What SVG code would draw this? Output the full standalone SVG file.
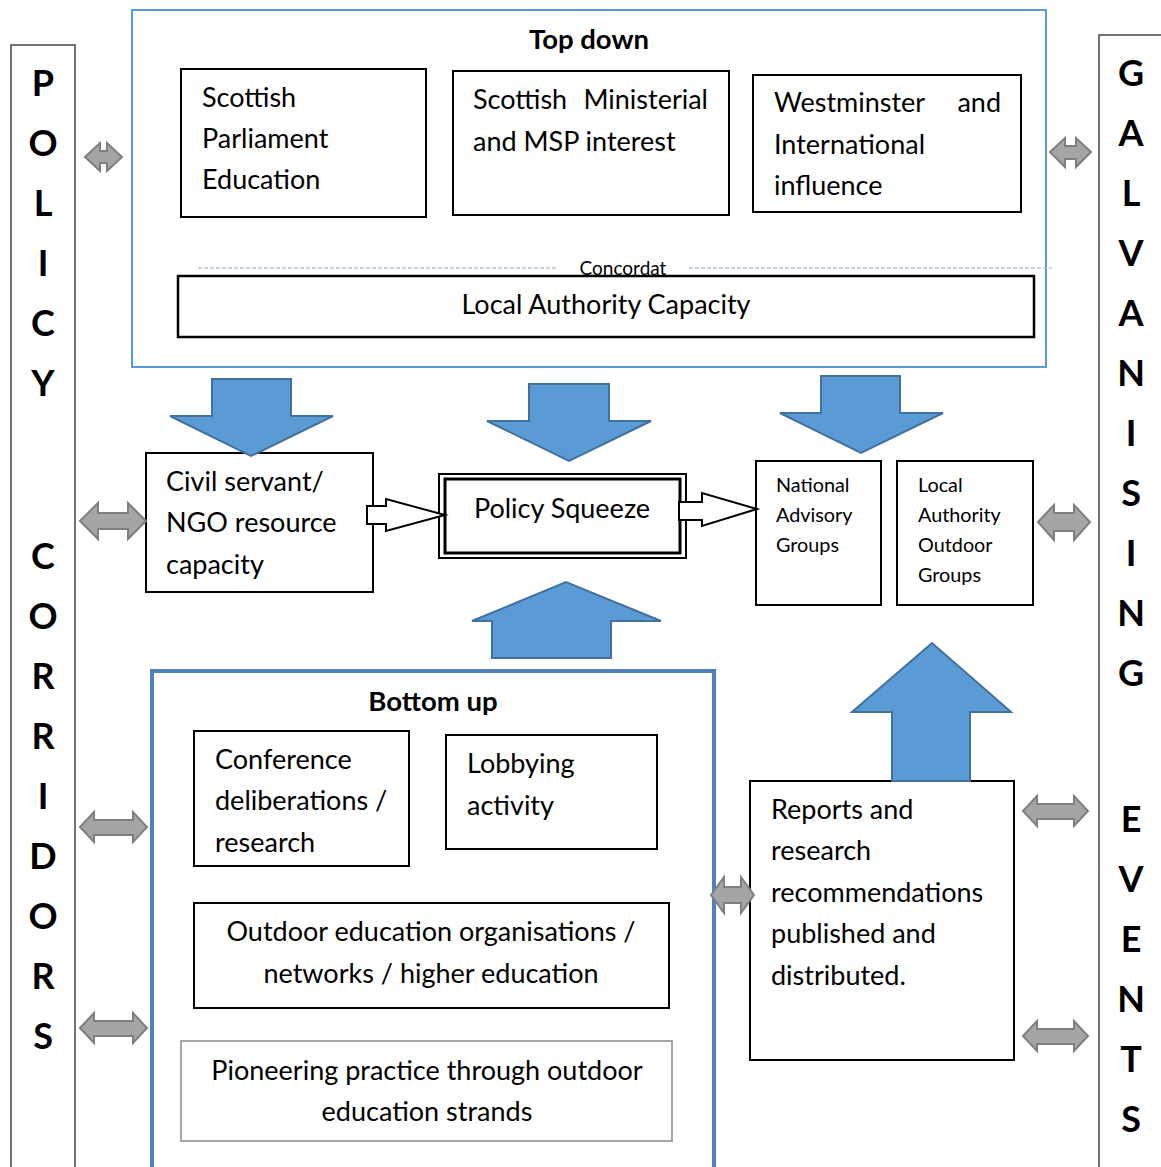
<svg xmlns="http://www.w3.org/2000/svg" width="1161" height="1167" viewBox="0 0 1161 1167">
  <defs>
    <style>
      text { font-family: Lato, "Open Sans", "Liberation Sans", sans-serif; fill: #000; }
      .box { fill: #fff; stroke: #000; stroke-width: 2; }
      .side { fill: #fff; stroke: #444; stroke-width: 1.5; }
      .big { font-size: 27px; }
      .small { font-size: 19.8px; }
      .letter { font-size: 36px; font-weight: bold; text-anchor: middle; }
      .title { font-size: 27.5px; font-weight: bold; text-anchor: middle; }
      .mid { text-anchor: middle; }
      .blue { fill: #5B9BD5; stroke: #41719C; stroke-width: 2; stroke-linejoin: miter; }
      .grey { fill: #A5A5A5; stroke: #7F7F7F; stroke-width: 2; }
      .hollow { fill: #fff; stroke: #000; stroke-width: 2; }
    </style>
  </defs>

  <rect width="1161" height="1167" fill="#fff"/>

  <!-- Left column: POLICY CORRIDORS -->
  <g id="policy-corridors">
    <rect class="side" x="11" y="45" width="64" height="1130"/>
    <text class="letter" x="43" y="96">P</text>
    <text class="letter" x="43" y="156">O</text>
    <text class="letter" x="43" y="216">L</text>
    <text class="letter" x="43" y="276">I</text>
    <text class="letter" x="43" y="336">C</text>
    <text class="letter" x="43" y="396">Y</text>
    <text class="letter" x="43" y="569">C</text>
    <text class="letter" x="43" y="629">O</text>
    <text class="letter" x="43" y="689">R</text>
    <text class="letter" x="43" y="749">R</text>
    <text class="letter" x="43" y="809">I</text>
    <text class="letter" x="43" y="869">D</text>
    <text class="letter" x="43" y="929">O</text>
    <text class="letter" x="43" y="989">R</text>
    <text class="letter" x="43" y="1049">S</text>
  </g>

  <!-- Right column: GALVANISING EVENTS -->
  <g id="galvanising-events">
    <rect class="side" x="1099" y="35" width="70" height="1140"/>
    <text class="letter" x="1131" y="86">G</text>
    <text class="letter" x="1131" y="146">A</text>
    <text class="letter" x="1131" y="206">L</text>
    <text class="letter" x="1131" y="266">V</text>
    <text class="letter" x="1131" y="326">A</text>
    <text class="letter" x="1131" y="386">N</text>
    <text class="letter" x="1131" y="446">I</text>
    <text class="letter" x="1131" y="506">S</text>
    <text class="letter" x="1131" y="566">I</text>
    <text class="letter" x="1131" y="626">N</text>
    <text class="letter" x="1131" y="686">G</text>
    <text class="letter" x="1131" y="832">E</text>
    <text class="letter" x="1131" y="892">V</text>
    <text class="letter" x="1131" y="952">E</text>
    <text class="letter" x="1131" y="1012">N</text>
    <text class="letter" x="1131" y="1072">T</text>
    <text class="letter" x="1131" y="1132">S</text>
  </g>

  <!-- Top down frame -->
  <g id="top-down">
    <rect x="132" y="10" width="914" height="357" fill="#fff" stroke="#5B9BD5" stroke-width="2"/>
    <text class="title" x="589" y="49">Top down</text>
  </g>

  <g id="scottish-parliament">
    <rect class="box" x="181" y="69" width="245" height="148"/>
    <text class="big" x="202" y="107">Scottish</text>
    <text class="big" x="202" y="148">Parliament</text>
    <text class="big" x="202" y="189">Education</text>
  </g>

  <g id="ministerial-interest">
    <rect class="box" x="453" y="71" width="276" height="144"/>
    <text class="big" x="473" y="109">Scottish</text>
    <text class="big" x="708" y="109" text-anchor="end">Ministerial</text>
    <text class="big" x="473" y="151">and MSP interest</text>
  </g>

  <g id="westminster">
    <rect class="box" x="753" y="75" width="268" height="137"/>
    <text class="big" x="774" y="112">Westminster</text>
    <text class="big" x="1001" y="112" text-anchor="end">and</text>
    <text class="big" x="774" y="154">International</text>
    <text class="big" x="774" y="195">influence</text>
  </g>

  <g id="local-authority-capacity">
    <rect x="178" y="276" width="856" height="61" fill="#fff" stroke="#000" stroke-width="2.5"/>
    <text class="big mid" x="606" y="314">Local Authority Capacity</text>
  </g>

  <g id="concordat">
    <line x1="198" y1="268" x2="557" y2="268" stroke="#8EA9C8" stroke-width="1" stroke-dasharray="4 2"/>
    <line x1="689" y1="268" x2="1052" y2="268" stroke="#8EA9C8" stroke-width="1" stroke-dasharray="4 2"/>
    <text x="623" y="275" class="mid" font-size="19">Concordat</text>
  </g>

  <!-- Middle row -->
  <g id="civil-servant">
    <rect class="box" x="146" y="453" width="227" height="139"/>
    <text class="big" x="166" y="491">Civil servant/</text>
    <text class="big" x="166" y="532">NGO resource</text>
    <text class="big" x="166" y="574">capacity</text>
  </g>

  <g id="policy-squeeze">
    <rect x="439" y="474" width="247" height="84" fill="#fff" stroke="#000" stroke-width="2"/>
    <rect x="445" y="479" width="235" height="74" fill="none" stroke="#000" stroke-width="3"/>
    <text class="big mid" x="562" y="518">Policy Squeeze</text>
  </g>

  <g id="national-advisory">
    <rect class="box" x="756" y="461" width="125" height="144"/>
    <text class="small" x="776" y="492">National</text>
    <text class="small" x="776" y="522">Advisory</text>
    <text class="small" x="776" y="552">Groups</text>
  </g>

  <g id="la-outdoor-groups">
    <rect class="box" x="897" y="461" width="136" height="144"/>
    <text class="small" x="918" y="492">Local</text>
    <text class="small" x="918" y="522">Authority</text>
    <text class="small" x="918" y="552">Outdoor</text>
    <text class="small" x="918" y="582">Groups</text>
  </g>

  <!-- Bottom up frame -->
  <g id="bottom-up">
    <rect x="152" y="671" width="562" height="510" fill="#fff" stroke="#4F81BD" stroke-width="4"/>
    <text class="title" x="433" y="711">Bottom up</text>
  </g>

  <g id="conference">
    <rect class="box" x="194" y="731" width="215" height="135"/>
    <text class="big" x="215" y="769">Conference</text>
    <text class="big" x="215" y="810">deliberations /</text>
    <text class="big" x="215" y="852">research</text>
  </g>

  <g id="lobbying">
    <rect class="box" x="446" y="735" width="211" height="114"/>
    <text class="big" x="467" y="773">Lobbying</text>
    <text class="big" x="467" y="815">activity</text>
  </g>

  <g id="oe-organisations">
    <rect class="box" x="194" y="903" width="475" height="105"/>
    <text class="big mid" x="431" y="941">Outdoor education organisations /</text>
    <text class="big mid" x="431" y="983">networks / higher education</text>
  </g>

  <g id="pioneering-practice">
    <rect x="181" y="1041" width="491" height="100" fill="#fff" stroke="#A6A6A6" stroke-width="2"/>
    <text class="big mid" x="427" y="1080">Pioneering practice through outdoor</text>
    <text class="big mid" x="427" y="1121">education strands</text>
  </g>

  <g id="reports">
    <rect class="box" x="750" y="781" width="264" height="279"/>
    <text class="big" x="771" y="819">Reports and</text>
    <text class="big" x="771" y="860">research</text>
    <text class="big" x="771" y="902">recommendations</text>
    <text class="big" x="771" y="943">published and</text>
    <text class="big" x="771" y="985">distributed.</text>
  </g>

  <!-- Connectors -->
  <g id="connectors">
    <!-- block arrows pressing down from top down -->
    <polygon class="blue" points="212,379 291,379 291,416 333,416 251,456 170,416 212,416"/>
    <polygon class="blue" points="529,384 609,384 609,421 651,421 569,461 487,421 529,421"/>
    <polygon class="blue" points="821,376 900,376 900,413 943,413 861,453 780,413 821,413"/>
    <!-- block arrows pushing up from bottom up -->
    <polygon class="blue" points="492,658 611,658 611,621 661,621 566,582 472,621 492,621"/>
    <polygon class="blue" points="892,781 970,781 970,712 1011,712 932,643 852,712 892,712"/>

    <!-- hollow arrows into and out of the squeeze -->
    <polygon class="hollow" points="367,506 386,506 386,499 445,515 386,531 386,524 367,524"/>
    <polygon class="hollow" points="679,502 702,502 702,493 757,509 702,526 702,520 679,520"/>

    <!-- grey two-way links -->
    <polygon class="grey" points="85,157 100,143 100,151 107,151 107,143 122,157 107,171 107,163 100,163 100,171"/>
    <polygon class="grey" points="1050,152 1065,138 1065,146 1076,146 1076,138 1091,152 1076,167 1076,159 1065,159 1065,167"/>
    <polygon class="grey" points="80,521 98,503 98,513 128,513 128,503 146,521 128,539 128,529 98,529 98,539"/>
    <polygon class="grey" points="1038,522 1054,505 1054,513 1074,513 1074,505 1090,522 1074,540 1074,531 1054,531 1054,540"/>
    <polygon class="grey" points="80,827 94,812 94,820 133,820 133,812 147,827 133,842 133,835 94,835 94,842"/>
    <polygon class="grey" points="80,1028 94,1013 94,1021 133,1021 133,1013 147,1028 133,1043 133,1036 94,1036 94,1043"/>
    <polygon class="grey" points="1023,811 1037,796 1037,804 1074,804 1074,796 1088,811 1074,826 1074,819 1037,819 1037,826"/>
    <polygon class="grey" points="1023,1036 1037,1021 1037,1029 1074,1029 1074,1021 1088,1036 1074,1051 1074,1044 1037,1044 1037,1051"/>
    <polygon class="grey" points="711,895 724,877 724,887 741,887 741,877 754,895 741,913 741,903 724,903 724,913"/>
  </g>
</svg>
